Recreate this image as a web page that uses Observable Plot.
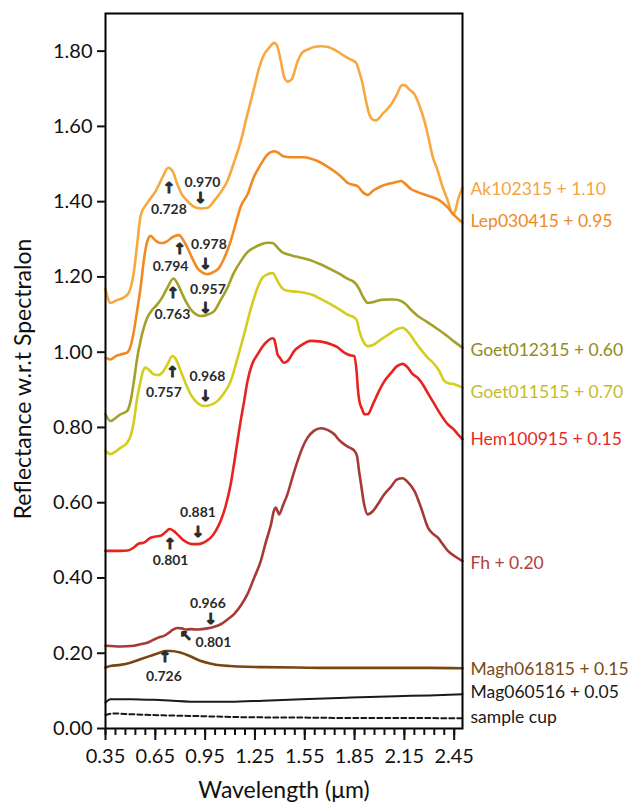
<!DOCTYPE html>
<html><head><meta charset="utf-8">
<script src="https://cdn.jsdelivr.net/npm/d3@7"></script>
<script src="https://cdn.jsdelivr.net/npm/@observablehq/plot@0.6"></script>
<style>
html,body{margin:0;padding:0;background:#fff;overflow:hidden;}
#chart svg{display:block;}
</style></head><body><div id="chart"></div>
<script>
// [wavelength (µm), reflectance]
const ak102315 = [[0.35,1.168],[0.38,1.131],[0.422,1.139],[0.459,1.145],[0.489,1.157],[0.519,1.208],[0.543,1.295],[0.561,1.362],[0.602,1.397],[0.652,1.428],[0.692,1.463],[0.728,1.490],[0.754,1.481],[0.783,1.446],[0.809,1.420],[0.843,1.402],[0.881,1.387],[0.923,1.382],[0.966,1.384],[1.004,1.402],[1.044,1.425],[1.084,1.455],[1.122,1.502],[1.165,1.561],[1.205,1.633],[1.245,1.702],[1.273,1.752],[1.305,1.791],[1.334,1.808],[1.366,1.822],[1.382,1.816],[1.406,1.773],[1.424,1.734],[1.448,1.719],[1.472,1.726],[1.507,1.773],[1.533,1.795],[1.567,1.804],[1.605,1.811],[1.648,1.813],[1.690,1.811],[1.728,1.804],[1.768,1.793],[1.816,1.780],[1.859,1.769],[1.877,1.747],[1.899,1.712],[1.919,1.667],[1.939,1.632],[1.959,1.618],[1.980,1.616],[2.022,1.635],[2.070,1.658],[2.106,1.686],[2.136,1.710],[2.154,1.709],[2.178,1.699],[2.211,1.685],[2.239,1.657],[2.271,1.614],[2.293,1.574],[2.322,1.517],[2.347,1.487],[2.382,1.437],[2.408,1.407],[2.442,1.366],[2.456,1.375],[2.474,1.407],[2.50,1.437]];
const lep030415 = [[0.35,0.985],[0.38,0.981],[0.41,0.989],[0.441,0.994],[0.481,0.999],[0.501,1.016],[0.521,1.056],[0.540,1.109],[0.561,1.171],[0.582,1.248],[0.602,1.295],[0.622,1.309],[0.646,1.299],[0.672,1.291],[0.694,1.290],[0.722,1.295],[0.754,1.306],[0.792,1.311],[0.814,1.301],[0.843,1.278],[0.872,1.250],[0.903,1.224],[0.932,1.212],[0.964,1.207],[0.996,1.212],[1.034,1.224],[1.068,1.253],[1.104,1.295],[1.135,1.343],[1.165,1.388],[1.205,1.419],[1.243,1.465],[1.285,1.499],[1.325,1.525],[1.366,1.534],[1.394,1.529],[1.424,1.520],[1.466,1.518],[1.547,1.518],[1.587,1.514],[1.627,1.508],[1.677,1.496],[1.728,1.481],[1.768,1.467],[1.808,1.450],[1.840,1.445],[1.869,1.441],[1.895,1.427],[1.929,1.418],[1.961,1.429],[2.010,1.441],[2.070,1.449],[2.100,1.452],[2.130,1.455],[2.154,1.448],[2.191,1.433],[2.227,1.426],[2.271,1.419],[2.311,1.413],[2.352,1.406],[2.384,1.396],[2.412,1.384],[2.450,1.364],[2.50,1.344]];
const goet012315 = [[0.35,0.835],[0.38,0.817],[0.41,0.825],[0.441,0.835],[0.481,0.844],[0.501,0.870],[0.521,0.923],[0.540,0.982],[0.561,1.030],[0.602,1.092],[0.631,1.112],[0.662,1.127],[0.691,1.145],[0.722,1.171],[0.759,1.196],[0.785,1.181],[0.813,1.154],[0.839,1.131],[0.863,1.114],[0.893,1.101],[0.923,1.096],[0.960,1.099],[1.004,1.109],[1.044,1.139],[1.084,1.171],[1.122,1.210],[1.165,1.242],[1.205,1.266],[1.245,1.278],[1.285,1.286],[1.325,1.291],[1.357,1.290],[1.386,1.278],[1.412,1.266],[1.446,1.260],[1.497,1.254],[1.547,1.249],[1.599,1.242],[1.648,1.233],[1.708,1.220],[1.768,1.206],[1.804,1.196],[1.839,1.189],[1.859,1.181],[1.879,1.167],[1.901,1.147],[1.929,1.131],[1.961,1.133],[2.010,1.139],[2.050,1.140],[2.088,1.140],[2.130,1.136],[2.160,1.127],[2.191,1.112],[2.231,1.096],[2.281,1.082],[2.352,1.061],[2.408,1.043],[2.450,1.028],[2.50,1.012]];
const goet011515 = [[0.35,0.738],[0.38,0.729],[0.41,0.736],[0.441,0.746],[0.481,0.760],[0.501,0.777],[0.521,0.817],[0.540,0.876],[0.561,0.923],[0.576,0.950],[0.591,0.959],[0.612,0.953],[0.641,0.941],[0.667,0.939],[0.692,0.946],[0.721,0.966],[0.753,0.990],[0.773,0.982],[0.803,0.950],[0.833,0.917],[0.863,0.888],[0.902,0.866],[0.943,0.857],[0.984,0.860],[1.024,0.870],[1.062,0.890],[1.104,0.923],[1.144,0.982],[1.185,1.048],[1.225,1.115],[1.266,1.171],[1.294,1.197],[1.326,1.207],[1.357,1.210],[1.386,1.189],[1.412,1.171],[1.446,1.163],[1.497,1.161],[1.547,1.158],[1.599,1.152],[1.648,1.141],[1.708,1.127],[1.768,1.111],[1.810,1.099],[1.848,1.092],[1.865,1.083],[1.879,1.056],[1.901,1.030],[1.929,1.016],[1.961,1.019],[2.010,1.034],[2.058,1.048],[2.100,1.060],[2.140,1.065],[2.172,1.054],[2.211,1.030],[2.251,1.006],[2.287,0.987],[2.331,0.968],[2.360,0.950],[2.392,0.923],[2.420,0.917],[2.452,0.915],[2.50,0.906]];
const hem100915 = [[0.35,0.472],[0.441,0.472],[0.483,0.473],[0.521,0.481],[0.549,0.491],[0.581,0.494],[0.622,0.507],[0.652,0.510],[0.682,0.512],[0.709,0.521],[0.736,0.530],[0.760,0.525],[0.783,0.516],[0.812,0.503],[0.843,0.494],[0.872,0.490],[0.903,0.490],[0.935,0.493],[0.960,0.499],[0.984,0.507],[1.014,0.525],[1.044,0.552],[1.074,0.592],[1.104,0.649],[1.124,0.703],[1.145,0.764],[1.165,0.820],[1.185,0.870],[1.205,0.923],[1.231,0.966],[1.266,0.994],[1.294,1.014],[1.326,1.030],[1.356,1.037],[1.366,1.034],[1.376,1.016],[1.386,0.994],[1.400,0.985],[1.426,0.972],[1.448,0.977],[1.486,1.003],[1.527,1.018],[1.587,1.030],[1.648,1.028],[1.708,1.021],[1.744,1.014],[1.788,0.999],[1.829,0.991],[1.849,0.990],[1.862,0.950],[1.871,0.897],[1.879,0.870],[1.895,0.849],[1.910,0.835],[1.929,0.835],[1.961,0.862],[1.992,0.892],[2.030,0.923],[2.070,0.945],[2.106,0.963],[2.140,0.969],[2.172,0.958],[2.197,0.943],[2.231,0.932],[2.263,0.913],[2.293,0.890],[2.331,0.862],[2.372,0.832],[2.412,0.808],[2.444,0.796],[2.474,0.781],[2.50,0.769]];
const fh = [[0.35,0.220],[0.441,0.218],[0.521,0.220],[0.561,0.224],[0.602,0.228],[0.640,0.236],[0.670,0.242],[0.702,0.246],[0.730,0.254],[0.754,0.262],[0.783,0.267],[0.809,0.266],[0.833,0.263],[0.863,0.264],[0.905,0.263],[0.964,0.266],[1.002,0.270],[1.044,0.277],[1.083,0.289],[1.124,0.304],[1.165,0.327],[1.205,0.357],[1.243,0.398],[1.285,0.445],[1.316,0.496],[1.346,0.541],[1.364,0.578],[1.376,0.587],[1.396,0.569],[1.418,0.592],[1.446,0.623],[1.475,0.666],[1.507,0.711],[1.536,0.746],[1.567,0.773],[1.605,0.791],[1.648,0.798],[1.690,0.793],[1.728,0.782],[1.756,0.767],[1.788,0.755],[1.822,0.746],[1.847,0.739],[1.865,0.724],[1.877,0.684],[1.889,0.649],[1.907,0.597],[1.929,0.569],[1.961,0.578],[1.992,0.597],[2.030,0.623],[2.070,0.643],[2.106,0.662],[2.140,0.665],[2.172,0.654],[2.211,0.631],[2.251,0.586],[2.292,0.534],[2.323,0.517],[2.352,0.507],[2.384,0.488],[2.412,0.472],[2.456,0.457],[2.50,0.445]];
const magh061815 = [[0.35,0.162],[0.38,0.166],[0.44,0.169],[0.50,0.175],[0.56,0.184],[0.62,0.193],[0.68,0.202],[0.71,0.206],[0.74,0.206],[0.80,0.202],[0.86,0.192],[0.92,0.180],[0.98,0.173],[1.04,0.168],[1.10,0.166],[1.20,0.164],[1.30,0.163],[1.50,0.162],[1.70,0.161],[1.90,0.161],[2.10,0.161],[2.30,0.161],[2.50,0.160]];
const mag060516 = [[0.35,0.069],[0.38,0.078],[0.50,0.078],[0.70,0.075],[0.92,0.071],[1.10,0.071],[1.30,0.074],[1.53,0.078],[1.80,0.082],[2.10,0.086],[2.30,0.088],[2.50,0.091]];
const sampleCup = [[0.35,0.036],[0.40,0.040],[0.50,0.038],[0.70,0.035],[0.90,0.033],[1.20,0.030],[1.53,0.029],[1.80,0.028],[2.10,0.028],[2.50,0.027]];

const seriesNames = ["Ak102315 + 1.10","Lep030415 + 0.95","Goet012315 + 0.60","Goet011515 + 0.70","Hem100915 + 0.15","Fh + 0.20","Magh061815 + 0.15","Mag060516 + 0.05","sample cup"];
const lineColors = ["#F7A83E","#F28A22","#A3A128","#D5CD1E","#E8231F","#A63A36","#784612","#1a1a1a","#1a1a1a"];
const labelColors = ["#F5A540","#EE8A26","#8F8C1E","#C4BC2A","#E52A25","#B0403C","#7A4A14","#1a1a1a","#1a1a1a"];
const labelY = [1.433,1.348,1.004,0.893,0.769,0.440,0.158,0.096,0.029];

const annoText = ["0.728","0.970","0.794","0.978","0.763","0.957","0.757","0.968","0.881","0.801","0.966","0.801","0.726"];
const annoX = [0.732,0.934,0.742,0.973,0.753,0.967,0.702,0.964,0.907,0.742,0.967,1.000,0.702];
const annoY = [1.378,1.450,1.228,1.286,1.101,1.167,0.893,0.936,0.573,0.446,0.333,0.229,0.139];
const arrowGlyph = ["↑","↓","↑","↓","↑","↓","↑","↓","↓","↑","↓","↖","↑"];
const arrowX = [0.732,0.923,0.797,0.953,0.756,0.953,0.753,0.953,0.907,0.738,0.984,0.833,0.708];
const arrowY = [1.437,1.410,1.273,1.233,1.158,1.117,0.946,0.884,0.521,0.491,0.291,0.246,0.189];

const yTicks = [0,0.2,0.4,0.6,0.8,1.0,1.2,1.4,1.6,1.8];
const xTicks = [0.35,0.65,0.95,1.25,1.55,1.85,2.15,2.45];
const xMinorTicks = d3.range(0, 36).map(i => +(0.35 + i * 0.06).toFixed(2));

const allSeries = [ak102315, lep030415, goet012315, goet011515, hem100915, fh, magh061815, mag060516, sampleCup];

const marks = [];
allSeries.forEach((s, i) => {
  marks.push(Plot.line(s, {
    x: d => d[0], y: d => d[1],
    stroke: lineColors[i],
    strokeWidth: i >= 7 ? 2 : 2.6,
    strokeDasharray: i === 8 ? "5,3" : null,
    curve: "monotone-x"
  }));
});
seriesNames.forEach((n, i) => {
  marks.push(Plot.text([labelY[i]], {
    y: d => d, text: () => n, frameAnchor: "right", dx: 8,
    textAnchor: "start", fill: labelColors[i], fontSize: 17.5
  }));
});
const idx = d3.range(annoText.length);
marks.push(Plot.text(idx, {x: i => annoX[i], y: i => annoY[i], text: i => annoText[i],
  fontWeight: "bold", fontSize: 14, fill: "#2b2b2b"}));
marks.push(Plot.text(idx, {x: i => arrowX[i], y: i => arrowY[i], text: i => arrowGlyph[i],
  fontWeight: "bold", fontSize: 15, fill: "#2b2b2b", stroke: "#2b2b2b", strokeWidth: 1,
  fontFamily: "DejaVu Sans"}));

marks.push(Plot.frame({stroke: "black", strokeWidth: 2}));
marks.push(Plot.axisY(yTicks, {tickFormat: d3.format(".2f"), tickSize: 8, tickPadding: 5,
  fontSize: 20, label: null, strokeWidth: 2}));
marks.push(Plot.axisX(xMinorTicks, {tickSize: 7, tickFormat: () => "", label: null, strokeWidth: 2}));
marks.push(Plot.axisX(xTicks, {tickSize: 12, tickPadding: 8, fontSize: 20,
  tickFormat: d3.format(".2f"), label: null, strokeWidth: 2}));
marks.push(Plot.text(["Reflectance w.r.t Spectralon"], {frameAnchor: "left", rotate: -90,
  textAnchor: "middle", lineAnchor: "middle", dx: -82, dy: 8, fontSize: 23, fill: "#111"}));
marks.push(Plot.text(["Wavelength (μm)"], {frameAnchor: "bottom", lineAnchor: "middle",
  dy: 62, fontSize: 23, fill: "#111"}));

const chart = Plot.plot({
  width: 632, height: 804,
  marginLeft: 105, marginRight: 170, marginTop: 13, marginBottom: 76,
  style: {fontFamily: "Lato, 'Open Sans', sans-serif", background: "#fff", color: "#111"},
  x: {domain: [0.35, 2.50], label: null},
  y: {domain: [0, 1.9], label: null},
  marks
});
document.getElementById("chart").appendChild(chart);
</script></body></html>
